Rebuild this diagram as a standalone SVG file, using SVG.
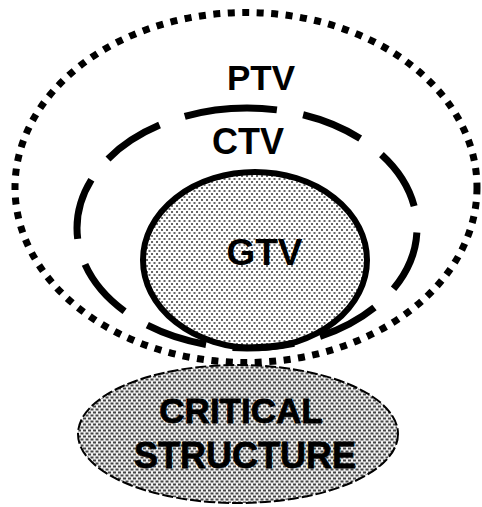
<svg xmlns="http://www.w3.org/2000/svg" width="482" height="507" viewBox="0 0 482 507">
<defs>
<pattern id="dotsLight" width="5" height="6" patternUnits="userSpaceOnUse">
<rect x="0" y="0" width="5" height="6" fill="#fff"/>
<rect x="1" y="1" width="2" height="2" fill="#666"/>
<rect x="3.5" y="4" width="2" height="2" fill="#666"/>
<rect x="-1.5" y="4" width="2" height="2" fill="#666"/>
</pattern>
<pattern id="dotsDense" width="5" height="6" patternUnits="userSpaceOnUse">
<rect x="0" y="0" width="5" height="6" fill="#f2f2f2"/>
<rect x="0.5" y="0.5" width="3" height="2" fill="#444"/>
<rect x="3" y="3.5" width="3" height="2" fill="#444"/>
<rect x="-2" y="3.5" width="3" height="2" fill="#444"/>
</pattern>
</defs>
<style>
.lbl{font-family:"Liberation Sans",Arial,sans-serif;font-weight:bold;fill:#000;text-anchor:middle}
.crit{stroke:#000;stroke-width:0.8}
</style>
<g id="critical-structure">
<ellipse cx="238" cy="434" rx="160" ry="69" fill="url(#dotsDense)" stroke="#000" stroke-width="2" stroke-dasharray="11 3"/>
<text class="lbl crit" x="241" y="423" font-size="35">CRITICAL</text>
<text class="lbl crit" x="245" y="468" font-size="36">STRUCTURE</text>
</g>
<g id="ptv">
<ellipse cx="246" cy="187.5" rx="231" ry="175" fill="none" stroke="#000" stroke-width="7" stroke-dasharray="7 7.5"/>
<text class="lbl" x="261" y="90" font-size="35">PTV</text>
</g>
<g id="gtv">
<ellipse cx="255" cy="260" rx="112" ry="88" fill="url(#dotsLight)" stroke="#000" stroke-width="6"/>
<text class="lbl" x="264.5" y="265" font-size="37">GTV</text>
</g>
<g id="ctv">
<path d="M247,108 A170,120 0 1 1 247,348 A170,120 0 1 1 247,108" pathLength="918" fill="none" stroke="#000" stroke-width="7" stroke-dasharray="30 26.7 62 26.7 62 26.7 62 26.7 62 26.7 62 26.7 62 26.7 62 26.7 62 26.7 62 26.7 70"/>
<text class="lbl" x="248" y="154" font-size="36">CTV</text>
</g>
</svg>
